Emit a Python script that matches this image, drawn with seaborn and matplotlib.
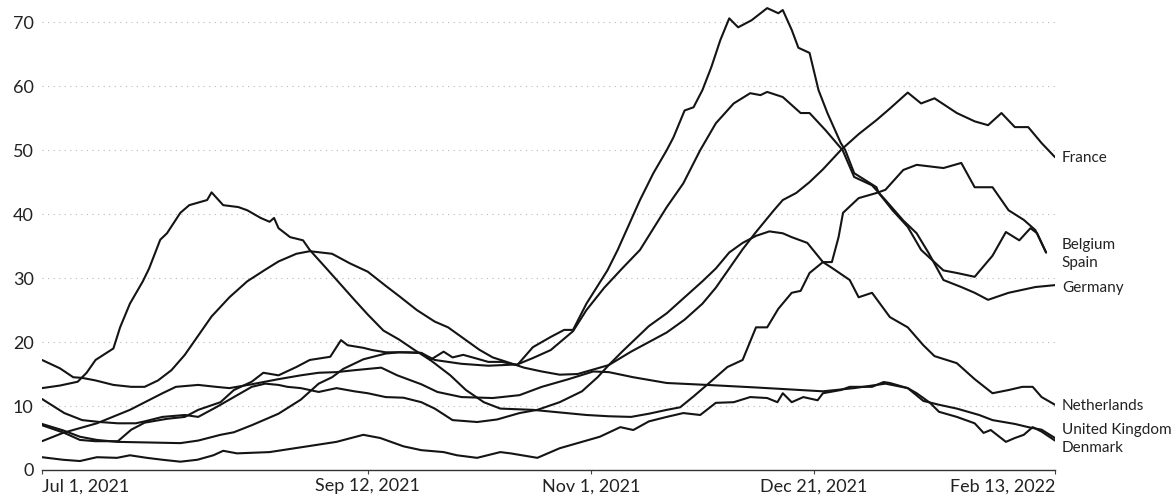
import pandas as pd
import seaborn as sns
import matplotlib.pyplot as plt

# ICU patients per million as (days since Jul 1 2021, value)
start = pd.Timestamp("2021-07-01")
end = pd.Timestamp("2022-02-13")

france = [(0, 17.2), (4, 15.9), (7, 14.5), (9, 14.4), (12, 14.0), (16, 13.3), (20, 13.0), (23, 13.0),
          (26, 14.0), (29, 15.6), (32, 18.0), (35, 21.0), (38, 24.0), (42, 27.0), (46, 29.5), (50, 31.3),
          (53, 32.6), (57, 33.8), (60, 34.2), (65, 33.8), (69, 32.3), (73, 31.0), (77, 28.8), (80, 27.2),
          (84, 25.0), (88, 23.2), (91, 22.3), (95, 20.3), (98, 18.8), (101, 17.6), (105, 16.7), (108, 16.0),
          (112, 15.4), (116, 14.9), (120, 15.0), (124, 15.8), (127, 16.4), (132, 18.5), (136, 20.0),
          (140, 21.5), (144, 23.5), (148, 26.0), (151, 28.5), (154, 31.5), (157, 34.5), (160, 37.2),
          (164, 40.6), (166, 42.2), (169, 43.3), (172, 45.0), (175, 47.0), (179, 50.0), (183, 52.5),
          (187, 54.7), (190, 56.5), (194, 59.0), (197, 57.3), (200, 58.1), (205, 55.8), (209, 54.5),
          (212, 53.9), (215, 55.8), (218, 53.6), (221, 53.6), (224, 51.1), (227, 48.9)]

spain = [(0, 12.8), (4, 13.2), (8, 13.8), (10, 15.2), (12, 17.2), (16, 19.0), (17.5, 22.3), (19.7, 26.0),
         (22.6, 29.5), (24, 31.5), (26.5, 36.0), (28, 37.0), (31, 40.2), (33, 41.4), (37, 42.2), (38, 43.4),
         (40.6, 41.4), (44, 41.1), (46, 40.6), (49, 39.4), (51, 38.8), (52, 39.4), (53, 37.8), (55.6, 36.4),
         (58.5, 35.9), (60, 34.4), (64, 31.3), (70, 26.6), (73, 24.3), (76.5, 21.8), (80, 20.4), (83.6, 18.7),
         (87, 17.2), (91.5, 14.8), (95, 12.5), (99, 10.6), (102.7, 9.6), (110, 9.4), (116, 9.0), (122, 8.6),
         (127, 8.4), (132, 8.3), (136, 8.8), (140, 9.4), (143, 9.8), (146, 11.5), (149, 13.3), (153.6, 16.1),
         (157, 17.2), (160, 22.3), (162.5, 22.3), (165, 25.2), (168, 27.7), (170, 28.0), (172, 30.8),
         (175, 32.5), (177, 32.5), (178.5, 36.4), (179.5, 40.2), (183, 42.5), (187, 43.3), (189, 43.8),
         (193, 46.9), (196, 47.7), (202, 47.2), (206, 48.0), (209, 44.2), (213, 44.2), (216.6, 40.6),
         (220, 39.1), (222.6, 37.5), (225, 34.0)]

belgium = [(0, 7.0), (5, 5.8), (8.5, 4.7), (12, 4.5), (17, 4.5), (20, 6.3), (23, 7.4), (28, 8.0), (32, 8.3),
           (35, 9.4), (40, 10.6), (43, 12.5), (47, 13.8), (49.6, 15.2), (53, 14.8), (57, 16.1), (60, 17.2),
           (64.6, 17.7), (67, 20.3), (68.5, 19.5), (72, 19.1), (74, 18.75), (77, 18.4), (82, 18.4), (85, 18.3),
           (87, 17.2), (90, 18.5), (92, 17.6), (94.4, 18.0), (97.5, 17.4), (100, 16.9), (103, 16.9),
           (106.5, 16.4), (110, 19.2), (114, 20.8), (117, 21.9), (119, 21.9), (122, 26.0), (126.7, 31.2),
           (129, 34.4), (134, 42.2), (137, 46.4), (140, 50.0), (141.5, 52.0), (144, 56.2), (146, 56.7),
           (148, 59.4), (150, 63.0), (152, 67.2), (154, 70.6), (156, 69.2), (159, 70.3), (162.5, 72.2),
           (165, 71.4), (166, 71.9), (168, 68.8), (169.5, 66.0), (172, 65.2), (174, 59.4), (176, 55.8),
           (179, 51.1), (180, 50.0), (182, 46.4), (187, 44.2), (187.5, 43.3), (190.6, 40.6), (194, 38.0),
           (197, 34.4), (202, 31.2), (205, 30.8), (209, 30.2), (213, 33.5), (216, 37.2), (219, 35.9),
           (221.5, 37.8), (223, 37.0), (225, 34.0)]

germany = [(0, 7.2), (4.7, 6.2), (8.5, 5.2), (12.3, 4.7), (16.8, 4.4), (24, 4.3), (31, 4.2), (35, 4.6),
           (40, 5.5), (43, 5.9), (47, 7.0), (50, 7.9), (53, 8.8), (58, 11.0), (62, 13.5), (65, 14.5),
           (67.5, 15.8), (72, 17.3), (77, 18.2), (80, 18.4), (85, 18.3), (88, 17.2), (94, 16.6), (100, 16.3),
           (106.5, 16.5), (110, 17.5), (114, 18.75), (119, 21.7), (122, 25.0), (126, 28.5), (130, 31.5),
           (134, 34.4), (140, 41.1), (143.7, 44.8), (147.5, 50.0), (151, 54.2), (155, 57.3), (158.7, 58.9),
           (161, 58.6), (162.5, 59.1), (166, 58.3), (170, 55.8), (172, 55.8), (175.6, 53.1), (179.4, 50.0),
           (182, 45.8), (186, 44.5), (189, 42.2), (193, 39.0), (196, 37.0), (198.7, 33.9), (202, 29.7),
           (206, 28.6), (209, 27.7), (212, 26.6), (216.6, 27.7), (222.6, 28.6), (227, 28.9)]

netherlands = [(0, 11.1), (5, 8.9), (9, 7.8), (13, 7.5), (17, 7.3), (21, 7.3), (23, 7.6), (27, 8.3), (32, 8.6),
               (35, 8.3), (39, 9.8), (43, 11.4), (47, 13.0), (50, 13.5), (53, 13.3), (55, 13.0), (58, 12.8),
               (62, 12.2), (66, 12.8), (70, 12.3), (73, 12.0), (77, 11.4), (81, 11.3), (85, 10.6), (88, 9.6),
               (92, 7.8), (97.5, 7.5), (102, 7.9), (107, 8.9), (111, 9.4), (116, 10.6), (121, 12.3),
               (124.5, 14.5), (127, 16.4), (130, 18.5), (133, 20.5), (136, 22.5), (140, 24.5), (144, 27.0),
               (148, 29.5), (151, 31.5), (154, 34.0), (157, 35.5), (160, 36.6), (163, 37.3), (166, 37.0),
               (168, 36.4), (171.5, 35.5), (175, 32.5), (177, 31.6), (181, 29.7), (183, 27.0), (186, 27.7),
               (190, 23.9), (194, 22.3), (197.5, 19.5), (200, 17.8), (205, 16.7), (209, 14.2), (213, 12.0),
               (216.6, 12.5), (219.7, 13.0), (222, 13.0), (224, 11.4), (227, 10.2)]

uk = [(0, 4.5), (4.7, 5.8), (12.3, 7.3), (19.7, 9.4), (27, 12.0), (30, 13.0), (35, 13.3), (39, 13.0), (42, 12.8),
      (47, 13.4), (53, 14.2), (58, 14.8), (62, 15.2), (66, 15.3), (70, 15.6), (76, 16.0), (79.6, 14.8),
      (85, 13.4), (88.6, 12.2), (94, 11.4), (101, 11.25), (107, 11.7), (112, 13.0), (118, 14.2), (123.5, 15.4),
      (127, 15.3), (132.5, 14.5), (140, 13.6), (149, 13.3), (160, 12.9), (170, 12.5), (175, 12.3), (182, 12.8),
      (189, 13.5), (194, 12.8), (197.5, 10.8), (201, 10.2), (205, 9.6), (210, 8.6), (213, 7.8), (218, 7.2),
      (221, 6.7), (224, 6.3), (227, 5.0)]

denmark = [(0, 2.0), (4.7, 1.6), (8.5, 1.4), (12.3, 2.0), (16.8, 1.9), (19.7, 2.3), (23.5, 1.9), (27, 1.6),
           (31, 1.3), (34.8, 1.6), (38.4, 2.3), (40.6, 3.0), (43.7, 2.6), (51, 2.8), (58.5, 3.6), (66, 4.4),
           (72, 5.5), (75.8, 5.0), (81, 3.7), (85, 3.1), (90, 2.8), (93, 2.3), (97.5, 1.9), (102.7, 2.8),
           (105, 2.6), (111, 1.9), (116, 3.4), (121, 4.4), (125, 5.2), (129.6, 6.7), (132.5, 6.25), (136, 7.6),
           (140, 8.3), (143.7, 8.9), (147.5, 8.6), (151, 10.5), (155, 10.6), (158.7, 11.4), (162.5, 11.25),
           (164.8, 10.6), (166, 12.0), (168, 10.6), (170.6, 11.4), (173.8, 10.9), (175, 12.0), (179, 12.5),
           (181, 13.0), (186, 13.0), (188.6, 13.75), (190, 13.6), (194, 12.8), (196, 12.0), (199, 10.5),
           (201, 9.1), (205, 8.3), (209, 7.3), (211, 5.8), (212.6, 6.25), (216, 4.4), (218, 5.0), (220, 5.5),
           (222, 6.7), (224, 6.0), (227, 4.6)]

series = {"France": france, "Belgium": belgium, "Spain": spain, "Germany": germany,
          "Netherlands": netherlands, "United Kingdom": uk, "Denmark": denmark}

# end labels sit at dodged heights (baseline, in data units)
label_y = {"France": 48.2, "Belgium": 34.6, "Spain": 31.8, "Germany": 27.9,
           "Netherlands": 9.4, "United Kingdom": 5.6, "Denmark": 2.75}

tick_dates = ["2021-07-01", "2021-09-12", "2021-11-01", "2021-12-21", "2022-02-13"]
tick_labels = ["Jul 1, 2021", "Sep 12, 2021", "Nov 1, 2021", "Dec 21, 2021", "Feb 13, 2022"]

rows = []
for name, pts in series.items():
    for day, val in pts:
        rows.append({"country": name, "date": start + pd.Timedelta(days=day), "value": val})
df = pd.DataFrame(rows)

sns.set_theme(style="white")
plt.rcParams["font.family"] = ["Lato", "DejaVu Sans"]

fig = plt.figure(figsize=(11.75, 5.03), dpi=100)
ax = fig.add_axes([42 / 1175, 33 / 503, 1013 / 1175, 467 / 503])

sns.lineplot(data=df, x="date", y="value", hue="country",
             palette={c: "#141414" for c in series}, estimator=None,
             legend=False, linewidth=1.5, ax=ax)

ax.set_xlim(start, end)
ax.set_ylim(0, 73)
ax.set_xlabel("")
ax.set_ylabel("")

ax.set_yticks(range(0, 80, 10))
ax.yaxis.grid(True, linestyle=(0, (1, 4)), color="#b8b8b8", linewidth=0.8)
ax.xaxis.grid(False)
ax.set_axisbelow(True)

ax.set_xticks(pd.to_datetime(tick_dates))
ax.set_xticklabels(tick_labels)
xl = ax.get_xticklabels()
xl[0].set_ha("left")
xl[-1].set_ha("right")

ax.tick_params(axis="x", length=3, width=0.8, color="#444444", pad=3,
               labelsize=13, labelcolor="#222222", bottom=True)
ax.tick_params(axis="y", length=0, pad=6, labelsize=13, labelcolor="#222222")

for side in ["top", "right", "left"]:
    ax.spines[side].set_visible(False)
ax.spines["bottom"].set_color("#333333")
ax.spines["bottom"].set_linewidth(1.0)

for name, y in label_y.items():
    ax.annotate(name, xy=(1, y), xycoords=("axes fraction", "data"),
                xytext=(5, 0), textcoords="offset points",
                ha="left", va="baseline", fontsize=11, color="#222222",
                annotation_clip=False)

fig.savefig("out.png", dpi=100)
